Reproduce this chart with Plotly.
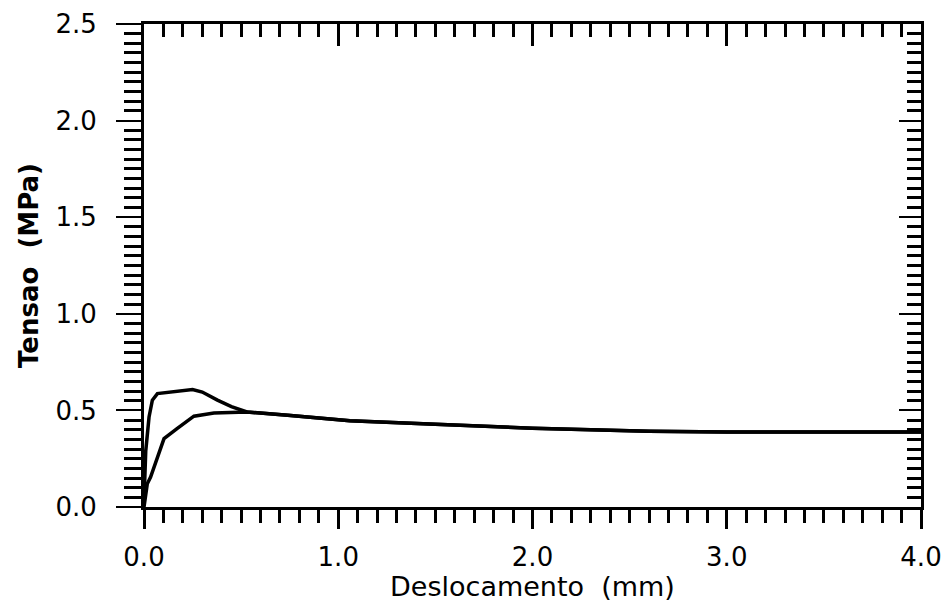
import plotly.graph_objects as go

# Curve with peak (upper at start)
disp_a = [0.0, 0.009, 0.026, 0.043, 0.069, 0.10, 0.17, 0.25, 0.30, 0.378, 0.45, 0.53,
          0.74, 1.06, 1.5, 2.0, 2.6, 3.0, 3.5, 4.0]
stress_a = [0.03, 0.29, 0.466, 0.553, 0.587, 0.59, 0.596, 0.608, 0.595, 0.553, 0.52, 0.492,
            0.475, 0.446, 0.428, 0.408, 0.392, 0.388, 0.388, 0.388]

# Curve rising slowly (lower at start)
disp_b = [0.0, 0.017, 0.034, 0.069, 0.103, 0.17, 0.257, 0.36, 0.45, 0.53,
          0.74, 1.06, 1.5, 2.0, 2.6, 3.0, 3.5, 4.0]
stress_b = [0.0, 0.12, 0.155, 0.26, 0.354, 0.406, 0.47, 0.487, 0.491, 0.492,
            0.475, 0.446, 0.428, 0.408, 0.392, 0.388, 0.388, 0.388]

x_range = [0, 4.0]
y_range = [0, 2.5]
x_title = "Deslocamento  (mm)"
y_title = "Tensao  (MPa)"

FONT = "DejaVu Sans"

fig = go.Figure()
fig.add_trace(go.Scatter(x=disp_a, y=stress_a, mode="lines",
                         line=dict(color="black", width=3.5), showlegend=False))
fig.add_trace(go.Scatter(x=disp_b, y=stress_b, mode="lines",
                         line=dict(color="black", width=3.5), showlegend=False))
# invisible trace to realise the top/right tick axes
fig.add_trace(go.Scatter(x=disp_b, y=stress_b, xaxis="x2", yaxis="y2", mode="lines",
                         line=dict(color="rgba(0,0,0,0)", width=0), hoverinfo="skip",
                         showlegend=False))

fig.update_layout(
    width=943, height=602,
    margin=dict(l=144, r=22, t=24, b=95),
    paper_bgcolor="white", plot_bgcolor="white",
    font=dict(family=FONT, color="black", size=26),
    xaxis=dict(
        range=x_range, dtick=1.0, tick0=0, tickformat=".1f", automargin=False,
        showgrid=False, zeroline=False,
        showline=True, linewidth=3, linecolor="black", mirror=True,
        ticks="outside", ticklen=19, tickwidth=2.5, tickcolor="black",
        tickfont=dict(family=FONT, size=26, color="black"),
        ticklabelstandoff=6,
        minor=dict(dtick=0.1, tick0=0, ticks="outside", ticklen=13,
                   tickwidth=2.5, tickcolor="black", showgrid=False),
        title=dict(text=x_title, font=dict(family=FONT, size=27, color="black"),
                   standoff=3),
    ),
    yaxis=dict(
        range=y_range, dtick=0.5, tick0=0, tickformat=".1f", automargin=False,
        showgrid=False, zeroline=False,
        showline=True, linewidth=3, linecolor="black", mirror=True,
        ticks="outside", ticklen=25, tickwidth=2, tickcolor="black",
        tickfont=dict(family=FONT, size=26, color="black"),
        ticklabelstandoff=14,
        minor=dict(dtick=0.05, tick0=0, ticks="outside", ticklen=17,
                   tickwidth=2.5, tickcolor="black", showgrid=False),
        title=dict(text="<b>" + y_title + "</b>",
                   font=dict(family=FONT, size=26, color="black"), standoff=10),
    ),
    xaxis2=dict(
        overlaying="x", side="top", anchor="y", range=x_range, dtick=1.0, tick0=0,
        automargin=False,
        showgrid=False, zeroline=False, showticklabels=False, showline=False,
        ticks="inside", ticklen=22, tickwidth=2.5, tickcolor="black",
        minor=dict(dtick=0.1, tick0=0, ticks="inside", ticklen=13,
                   tickwidth=2.5, tickcolor="black", showgrid=False),
    ),
    yaxis2=dict(
        overlaying="y", side="right", anchor="x", range=y_range, dtick=0.5, tick0=0,
        automargin=False,
        showgrid=False, zeroline=False, showticklabels=False, showline=False,
        ticks="inside", ticklen=22, tickwidth=2, tickcolor="black",
        minor=dict(dtick=0.05, tick0=0, ticks="inside", ticklen=14,
                   tickwidth=2.5, tickcolor="black", showgrid=False),
    ),
)

fig.write_html("out.html",
               config={"displayModeBar": False},
               post_script="document.body.style.margin='0px';document.body.style.overflow='hidden';")
